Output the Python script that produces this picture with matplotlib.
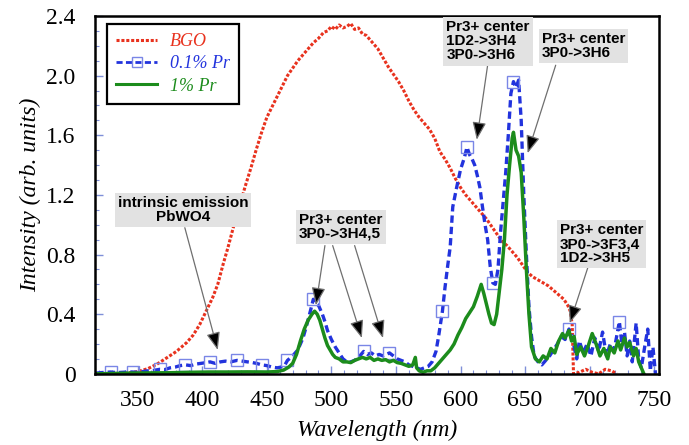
import matplotlib
matplotlib.use("Agg")
import matplotlib.pyplot as plt
from matplotlib.lines import Line2D
from matplotlib.ticker import MultipleLocator

# BGO reference crystal
red_nm = [317, 325, 335, 342, 348, 352, 358, 365, 373, 380, 388, 393, 398, 403, 408, 412, 416, 420, 424, 428,
          433, 438, 442, 446, 450, 454, 458, 462, 466, 470, 474, 478, 482, 486, 490, 494, 497, 500, 503, 506,
          509, 512, 515, 518, 521, 524, 527, 530, 533, 536, 540, 544, 548, 552, 556, 560, 564, 568, 572, 576,
          580, 584, 588, 592, 596, 600, 604, 608, 612, 616, 620, 624, 628, 632, 636, 640, 644, 648, 652, 656,
          660, 664, 668, 672, 676, 680, 683, 685, 686.5, 687.5, 692, 697, 702, 707, 712, 717, 721]
red_val = [0.0, 0.0, 0.003, 0.006, 0.012, 0.02, 0.035, 0.065, 0.11, 0.15, 0.21, 0.26, 0.33, 0.42, 0.51, 0.60, 0.73, 0.85, 0.98, 1.10,
           1.25, 1.39, 1.51, 1.62, 1.72, 1.79, 1.86, 1.93, 2.00, 2.05, 2.10, 2.14, 2.18, 2.22, 2.25, 2.29, 2.30, 2.33, 2.31, 2.34,
           2.32, 2.33, 2.35, 2.31, 2.32, 2.28, 2.27, 2.24, 2.21, 2.18, 2.12, 2.06, 2.01, 1.96, 1.90, 1.83, 1.77, 1.72, 1.68, 1.64,
           1.58, 1.49, 1.44, 1.38, 1.31, 1.25, 1.20, 1.16, 1.12, 1.08, 1.04, 0.99, 0.94, 0.89, 0.86, 0.82, 0.78, 0.73, 0.68, 0.65,
           0.63, 0.61, 0.59, 0.56, 0.53, 0.50, 0.46, 0.42, 0.33, 0.0, 0.01, 0.03, 0.01, 0.0, 0.03, 0.02, 0.0]

# 0.1% Pr
blue_nm = [318, 322, 326, 329, 334, 338, 342, 346, 350, 354, 358, 362, 367, 371, 375, 379, 383, 387, 391, 395,
           399, 403, 406, 410, 414, 418, 422, 427, 431, 435, 439, 442, 446, 450, 454, 458, 461, 464, 466, 470,
           474, 478, 481, 484, 486, 488, 490, 493, 495, 497, 500, 503, 506, 509, 512, 515, 518, 521, 525, 528,
           531, 534, 537, 540, 545, 548, 551, 554, 557, 560, 563, 566, 569, 572, 575, 578, 581, 583, 586, 588,
           590, 592, 594, 597, 600, 603, 605, 607, 609, 611, 613, 615, 617, 619, 621, 623, 625, 627, 629, 631,
           633, 635, 637, 639, 641, 643, 645, 647, 649, 651, 653, 655, 657, 660, 663, 666, 669, 672, 675, 678,
           681, 684, 686, 688, 690, 692, 695, 698, 701, 704, 707, 710, 713, 716, 719, 723, 725, 727, 729, 731,
           733, 736, 738, 740, 743, 745, 747, 749, 751]
blue_val = [0.005, 0.008, 0.01, 0.012, 0.008, 0.01, 0.012, 0.012, 0.01, 0.015, 0.02, 0.022, 0.03, 0.028, 0.04, 0.045, 0.055, 0.06, 0.055, 0.065,
            0.07, 0.075, 0.08, 0.07, 0.08, 0.085, 0.08, 0.09, 0.085, 0.08, 0.075, 0.07, 0.06, 0.055, 0.045, 0.04, 0.045, 0.06, 0.09, 0.12,
            0.16, 0.24, 0.33, 0.43, 0.50, 0.47, 0.46, 0.40, 0.35, 0.29, 0.23, 0.18, 0.14, 0.10, 0.08, 0.08, 0.09, 0.11, 0.15, 0.13,
            0.14, 0.12, 0.13, 0.12, 0.14, 0.12, 0.10, 0.09, 0.08, 0.06, 0.05, 0.04, 0.03, 0.04, 0.05, 0.08, 0.15, 0.25, 0.42, 0.58,
            0.72, 0.85, 1.12, 1.25, 1.37, 1.45, 1.52, 1.47, 1.44, 1.40, 1.33, 1.25, 1.12, 1.00, 0.90, 0.72, 0.61, 0.60, 0.70, 0.95,
            1.15, 1.35, 1.60, 1.88, 1.96, 1.92, 1.97, 1.70, 1.20, 0.80, 0.45, 0.25, 0.12, 0.08, 0.06, 0.09, 0.12, 0.16, 0.20, 0.25,
            0.23, 0.30, 0.26, 0.18, 0.10, 0.22, 0.14, 0.20, 0.12, 0.24, 0.15, 0.28, 0.12, 0.20, 0.16, 0.35, 0.20, 0.28, 0.12, 0.22,
            0.08, 0.34, 0.10, 0.04, 0.20, 0.30, 0.02, 0.18, 0.0]
blue_markers = [329, 346, 367, 387, 406, 427, 446, 466, 486, 525, 545, 586, 605, 625, 641, 684, 723]

# 1% Pr
green_nm = [318, 330, 345, 360, 375, 390, 405, 420, 435, 450, 458, 463, 467, 470, 473, 476, 479, 482, 485, 487,
            489, 491, 493, 495, 497, 499, 501, 503, 506, 509, 512, 515, 518, 521, 524, 527, 530, 533, 536, 539,
            542, 545, 548, 551, 554, 557, 560, 563, 565, 566, 568, 571, 574, 577, 580, 583, 586, 589, 592, 595,
            598, 601, 604, 607, 610, 613, 616, 618, 620, 622, 624, 626, 628, 630, 632, 634, 636, 638, 640, 641,
            643, 645, 647, 649, 651, 653, 655, 658, 661, 664, 667, 670, 673, 676, 679, 681, 684, 686, 688, 690,
            693, 696, 699, 702, 705, 708, 711, 714, 716, 719, 722, 724, 727, 729, 731, 734, 736, 738, 740, 742]
green_val = [0.0, 0.002, 0.005, 0.006, 0.007, 0.01, 0.012, 0.012, 0.013, 0.012, 0.015, 0.025, 0.045, 0.07, 0.13, 0.22, 0.30, 0.36, 0.40, 0.42,
             0.40, 0.36, 0.30, 0.24, 0.19, 0.16, 0.13, 0.11, 0.10, 0.08, 0.08, 0.075, 0.09, 0.10, 0.11, 0.10, 0.11, 0.09, 0.10, 0.09,
             0.095, 0.08, 0.09, 0.075, 0.07, 0.06, 0.05, 0.06, 0.11, 0.04, 0.02, 0.01, 0.02, 0.02, 0.04, 0.07, 0.10, 0.13, 0.16, 0.20,
             0.26, 0.31, 0.37, 0.41, 0.45, 0.52, 0.60, 0.54, 0.47, 0.40, 0.34, 0.33, 0.40, 0.55, 0.70, 0.90, 1.20, 1.40, 1.58, 1.62,
             1.50, 1.46, 1.35, 1.05, 0.70, 0.40, 0.18, 0.10, 0.08, 0.12, 0.10, 0.17, 0.14, 0.22, 0.27, 0.24, 0.29, 0.22, 0.25, 0.13,
             0.18, 0.12, 0.19, 0.27, 0.20, 0.12, 0.17, 0.10, 0.18, 0.14, 0.22, 0.16, 0.24, 0.18, 0.21, 0.12, 0.17, 0.08, 0.04, 0.0]

xticks = [350, 400, 450, 500, 550, 600, 650, 700, 750]
yticks = [0, 0.4, 0.8, 1.2, 1.6, 2.0, 2.4]
ytick_labels = ["0", "0.4", "0.8", "1.2", "1.6", "2.0", "2.4"]

RED = "#e8321e"
BLUE = "#2233dd"
GREEN = "#1c8c1c"
SERIF = "Liberation Serif"

fig = plt.figure(figsize=(6.89, 4.45), dpi=100)
ax = fig.add_axes([0.138, 0.16, 0.819, 0.804])

ax.plot(red_nm, red_val, color=RED, ls=(0, (1, 0.6)), lw=2.2)
ax.plot(blue_nm, blue_val, color=BLUE, ls=(0, (2.2, 1.2)), lw=2.4)
mk = [blue_nm.index(w) for w in blue_markers]
ax.plot([blue_nm[i] for i in mk], [blue_val[i] for i in mk], ls="none", marker="s",
        ms=8, mfc="none", mec="#7a86e6", mew=1.0)
ax.plot(green_nm, green_val, color=GREEN, lw=2.5)

ax.set_xlim(317, 754)
ax.set_ylim(0, 2.4)
ax.set_xticks(xticks)
ax.set_yticks(yticks)
ax.set_yticklabels(ytick_labels)
ax.xaxis.set_minor_locator(MultipleLocator(10))
ax.yaxis.set_minor_locator(MultipleLocator(0.1))
ax.tick_params(which="both", direction="in", color="#7f8fd8", top=False, right=False)
ax.tick_params(which="major", length=6, width=1)
ax.tick_params(which="minor", length=3, width=0.8)
ax.tick_params(axis="x", pad=12)
ax.tick_params(axis="y", pad=14)
for lab in ax.get_xticklabels() + ax.get_yticklabels():
    lab.set_fontfamily(SERIF)
    lab.set_fontsize(17)
for sp in ax.spines.values():
    sp.set_linewidth(1.8)

ax.set_xlabel("Wavelength (nm)", fontfamily=SERIF, fontstyle="italic", fontsize=17, labelpad=6)
ax.set_ylabel("Intensity (arb. units)", fontfamily=SERIF, fontstyle="italic", fontsize=17, labelpad=4)

handles = [
    Line2D([], [], color=RED, ls=(0, (1, 0.6)), lw=2.2),
    Line2D([], [], color=BLUE, ls=(0, (2.2, 1.2)), lw=2.0, marker="s", ms=7, mfc="none", mec="#7a86e6"),
    Line2D([], [], color=GREEN, lw=2.2),
]
leg = ax.legend(handles, ["BGO", "0.1% Pr", "1% Pr"], loc="upper left", bbox_to_anchor=(0.021, 0.978),
                borderaxespad=0, fancybox=False, framealpha=1, edgecolor="black",
                prop={"family": SERIF, "style": "italic", "size": 13},
                handlelength=2.3, handletextpad=0.7, labelspacing=0.3, borderpad=0.5, numpoints=1)
leg.get_frame().set_linewidth(1.6)
for t, c in zip(leg.get_texts(), [RED, BLUE, GREEN]):
    t.set_color(c)

box = dict(boxstyle="square,pad=0.2", fc="#e2e2e2", ec="none")
txt_kw = dict(fontfamily="Liberation Sans", fontweight="bold", fontsize=11, linespacing=1.0, bbox=box, zorder=5)
arrow = dict(arrowstyle="-|>,head_length=0.9,head_width=0.35", fc="black", ec="#6f6f6f", lw=0.9,
             shrinkA=0, shrinkB=0, mutation_scale=12)

ax.text(385, 1.10, "intrinsic emission\nPbWO4", ha="center", va="center", multialignment="center", **txt_kw)
ax.annotate("", xy=(412, 0.16), xytext=(386.5, 0.98), arrowprops=arrow)

ax.text(475, 1.08, "Pr3+ center\n3P0->3H4,5", ha="left", va="top", **txt_kw)
ax.annotate("", xy=(488, 0.46), xytext=(495, 0.86), arrowprops=arrow)
ax.annotate("", xy=(523.6, 0.24), xytext=(501, 0.86), arrowprops=arrow)
ax.annotate("", xy=(540, 0.24), xytext=(518, 0.86), arrowprops=arrow)

ax.text(589, 2.37, "Pr3+ center\n1D2->3H4\n3P0->3H6", ha="left", va="top", **txt_kw)
ax.annotate("", xy=(612.6, 1.57), xytext=(621, 2.07), arrowprops=arrow)

ax.text(663, 2.29, "Pr3+ center\n3P0->3H6", ha="left", va="top", **txt_kw)
ax.annotate("", xy=(652, 1.48), xytext=(673.7, 2.07), arrowprops=arrow)

ax.text(677, 1.01, "Pr3+ center\n3P0->3F3,4\n1D2->3H5", ha="left", va="top", **txt_kw)
ax.annotate("", xy=(684.6, 0.34), xytext=(698.5, 0.71), arrowprops=arrow)

fig.savefig("out.png", dpi=100)
